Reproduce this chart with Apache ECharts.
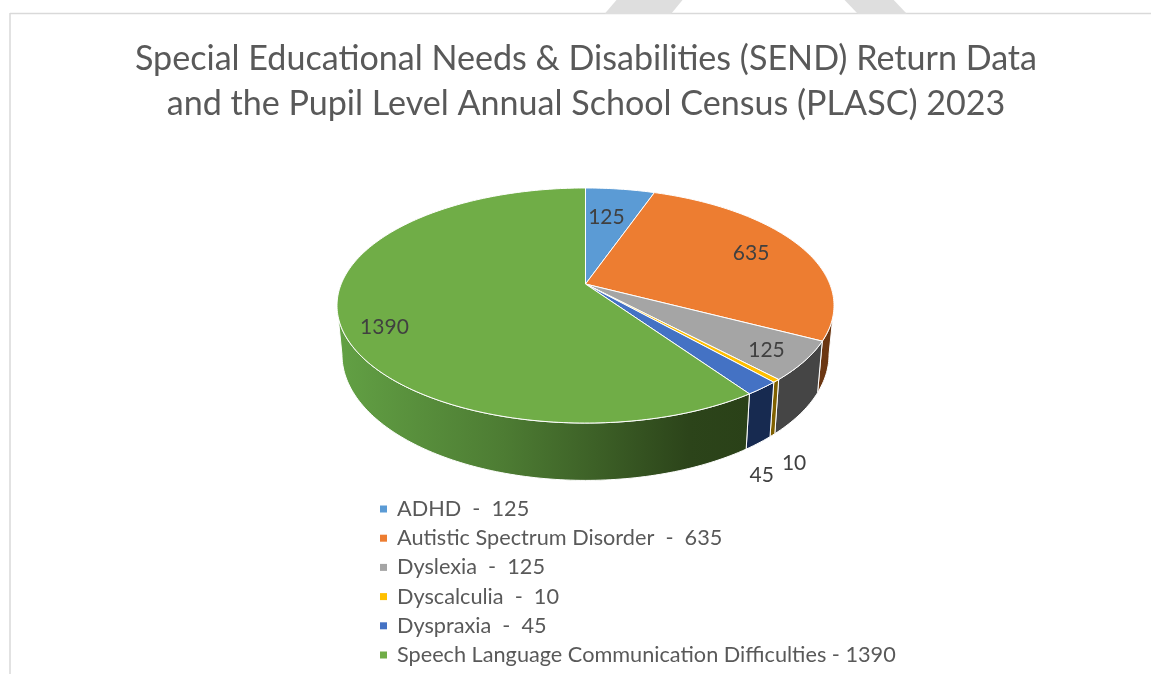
<!DOCTYPE html>
<html><head><meta charset="utf-8">
<style>html,body{margin:0;padding:0;background:#fff}#c{width:1151px;height:674px}</style>
<script src="https://cdn.jsdelivr.net/npm/echarts@6/dist/echarts.min.js"></script>
</head><body><div id="c"></div>
<script>
const titleLines = ['Special Educational Needs & Disabilities (SEND) Return Data','and the Pupil Level Annual School Census (PLASC) 2023'];
const categories = ['ADHD','Autistic Spectrum Disorder','Dyslexia','Dyscalculia','Dyspraxia','Speech Language Communication Difficulties'];
const values = [125,635,125,10,45,1390];
const legendLabels = ['ADHD  -  125','Autistic Spectrum Disorder  -  635','Dyslexia  -  125','Dyscalculia  -  10','Dyspraxia  -  45','Speech Language Communication Difficulties - 1390'];
const topColors = ['#5b9bd5','#ed7d31','#a5a5a5','#ffc000','#4472c4','#70ad47'];
const wallColors = ['#2c4f70','#6b3612','#454545','#7f6000','#172a50',null];
const labelRadius = [0.67,0.767,0.851,1.39,1.398,0.847];
const labelTurn = [-1.4,0,1,14,15,-7.3];

// projection of the pie plane
const P = {cx:585.5, cy:284, A:244.3, B:113.6, k:0.183, s:0.98, d0:47.6, d1:0.07};
const total = values.reduce((a,b)=>a+b,0);
const cum = values.reduce((a,v,i)=>{a.push((i?a[i-1]:0)+v);return a;},[]);
const rad = d => d*Math.PI/180;
function proj(deg,r){ r = r===undefined?1:r;
  const u=r*Math.sin(rad(deg)), v=-r*Math.cos(rad(deg)), w=1-P.k*v;
  return [P.cx+P.A*u/w, P.cy+P.B*v/w];
}
function lower(pt){ return [P.cx+P.s*(pt[0]-P.cx), pt[1]+P.d0+P.d1*(pt[1]-P.cy)]; }
function arc(a,b){ const n=Math.max(2,Math.ceil(Math.abs(b-a)/1)); const o=[];
  for(let i=0;i<=n;i++) o.push(proj(a+(b-a)*i/n)); return o; }
const visA = Math.acos(-P.k)*180/Math.PI, visB = 360-visA;

function sliceItem(i){ return function(){
  const a=(i?cum[i-1]:0)/total*360, b=cum[i]/total*360, kids=[];
  const wa=Math.max(a,visA), wb=Math.min(b,visB);
  if(wb>wa){
    const top=arc(wa,wb), bot=top.map(lower).reverse();
    const fill = wallColors[i] || new echarts.graphic.LinearGradient(340,0,750,0,[
      {offset:0,color:'#62a044'},{offset:0.4,color:'#4d7c33'},{offset:0.85,color:'#2c441a'},{offset:1,color:'#2a4118'}],true);
    kids.push({type:'polygon',z2:1,shape:{points:top.concat(bot)},style:{fill:fill,stroke:'#fff',lineWidth:1}});
  }
  kids.push({type:'polygon',z2:5,shape:{points:[[P.cx,P.cy]].concat(arc(a,b))},
    style:{fill:topColors[i],stroke:'#fff',lineWidth:1,lineJoin:'round'}});
  const m=proj((a+b)/2+labelTurn[i],labelRadius[i]);
  kids.push({type:'text',z2:9,x:m[0],y:m[1],style:{text:String(values[i]),fill:'#404040',
    font:'21px Lato',textAlign:'center',textVerticalAlign:'middle'}});
  return {type:'group',children:kids};
};}

const series = values.map((v,i)=>({
  type:'custom',name:legendLabels[i],coordinateSystem:'none',silent:true,
  itemStyle:{color:topColors[i]},data:[[v]],renderItem:sliceItem(i)
}));

const chart = echarts.init(document.getElementById('c'),null,{renderer:'canvas'});
chart.setOption({
  animation:false,backgroundColor:'#fff',
  title:{text:titleLines.join('\n'),left:581,top:32,textAlign:'center',
    textStyle:{fontFamily:'Lato',fontWeight:'normal',fontSize:34.1,lineHeight:45,color:'#595959'}},
  legend:{orient:'vertical',left:380,top:498,height:176,padding:0,icon:'rect',itemWidth:7,itemHeight:7,itemGap:7.2,selectedMode:false,
    data:legendLabels,textStyle:{fontFamily:'Lato',fontSize:21.7,lineHeight:22,color:'#595959',padding:[0,0,0,5]}},
  graphic:[
    {type:'line',silent:true,shape:{x1:10,y1:13.5,x2:1151,y2:13.5},style:{stroke:'#d9d9d9',lineWidth:1.5}},
    {type:'line',silent:true,shape:{x1:10,y1:13,x2:10,y2:674},style:{stroke:'#d9d9d9',lineWidth:1.5}},
    {type:'polygon',silent:true,shape:{points:[[604.5,14],[616.5,0],[682.5,0],[671,14]]},style:{fill:'#dedede'}},
    {type:'polygon',silent:true,shape:{points:[[844.6,0],[893.7,0],[907,14],[858,14]]},style:{fill:'#dedede'}}
  ],
  series:series
});
</script></body></html>
